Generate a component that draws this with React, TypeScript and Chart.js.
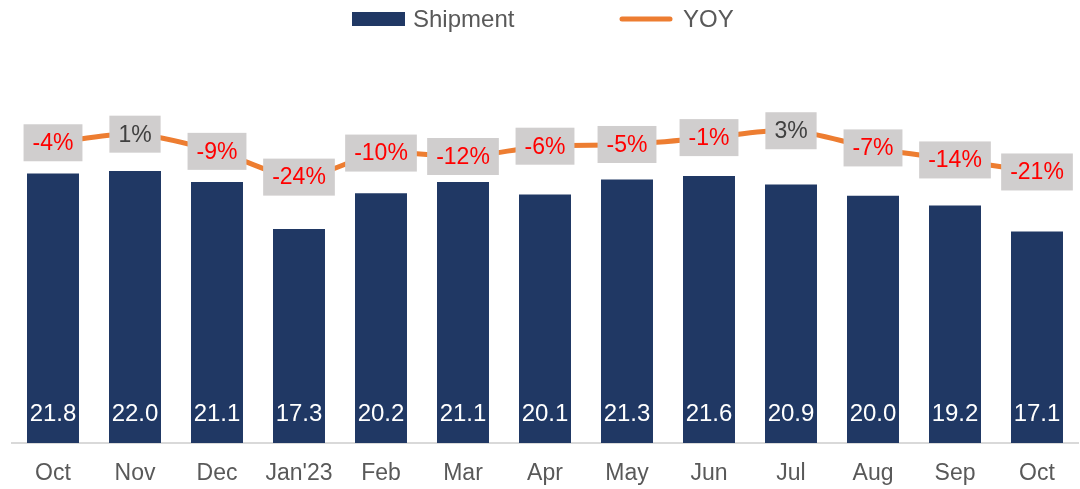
import React, { useEffect, useRef } from "react";
import { Chart, registerables } from "chart.js";

Chart.register(...registerables);

const categories = ["Oct", "Nov", "Dec", "Jan'23", "Feb", "Mar", "Apr", "May", "Jun", "Jul", "Aug", "Sep", "Oct"];
const shipment = [21.8, 22.0, 21.1, 17.3, 20.2, 21.1, 20.1, 21.3, 21.6, 20.9, 20.0, 19.2, 17.1];
const yoy = [-4, 1, -9, -24, -10, -12, -6, -5, -1, 3, -7, -14, -21];

const FONT = "'Liberation Sans', Arial, sans-serif";
const NAVY = "#203864";
const ORANGE = "#ED7D31";

const labelsPlugin = {
  id: "customLabels",
  afterDatasetsDraw(chart: any) {
    const ctx = chart.ctx;
    const barMeta = chart.getDatasetMeta(1);
    const y0 = chart.scales.y.getPixelForValue(0);
    ctx.save();
    ctx.font = `24px ${FONT}`;
    ctx.fillStyle = "#FFFFFF";
    ctx.textAlign = "center";
    ctx.textBaseline = "middle";
    barMeta.data.forEach((el: any, i: number) => {
      ctx.fillText(shipment[i].toFixed(1), el.x, y0 - 29);
    });
    const lineMeta = chart.getDatasetMeta(0);
    ctx.font = `23px ${FONT}`;
    lineMeta.data.forEach((el: any, i: number) => {
      const txt = `${yoy[i]}%`;
      const w = ctx.measureText(txt).width + 18;
      const h = 37;
      ctx.fillStyle = "#D0CECE";
      ctx.fillRect(el.x - w / 2, el.y - h / 2, w, h);
      ctx.fillStyle = yoy[i] < 0 ? "#FF0000" : "#404040";
      ctx.fillText(txt, el.x, el.y + 1);
    });
    ctx.restore();
  },
  afterDraw(chart: any) {
    const ctx = chart.ctx;
    ctx.save();
    ctx.fillStyle = NAVY;
    ctx.fillRect(352, 12, 53, 14);
    ctx.font = `24px ${FONT}`;
    ctx.fillStyle = "#595959";
    ctx.textBaseline = "middle";
    ctx.textAlign = "left";
    ctx.fillText("Shipment", 413, 20);
    ctx.strokeStyle = ORANGE;
    ctx.lineWidth = 5;
    ctx.lineCap = "round";
    ctx.beginPath();
    ctx.moveTo(622, 19);
    ctx.lineTo(670, 19);
    ctx.stroke();
    ctx.fillText("YOY", 683, 20);
    ctx.restore();
  },
};

export default function App() {
  const ref = useRef<HTMLCanvasElement>(null);
  useEffect(() => {
    if (!ref.current) return;
    const chart = new Chart(ref.current, {
      type: "bar",
      data: {
        labels: categories,
        datasets: [
          {
            type: "line",
            label: "YOY",
            data: yoy,
            yAxisID: "y1",
            borderColor: ORANGE,
            backgroundColor: ORANGE,
            borderWidth: 5,
            pointRadius: 0,
            tension: 0.3,
            order: 0,
          } as any,
          {
            type: "bar",
            label: "Shipment",
            data: shipment,
            yAxisID: "y",
            backgroundColor: NAVY,
            barPercentage: 0.634,
            categoryPercentage: 1,
            order: 1,
          },
        ],
      },
      options: {
        responsive: false,
        animation: false,
        devicePixelRatio: 1,
        layout: { padding: { top: 72, left: 12, right: 2, bottom: 1 } },
        plugins: { legend: { display: false }, tooltip: { enabled: false } },
        scales: {
          x: {
            grid: { display: false, drawTicks: false },
            border: { display: true, color: "#D9D9D9", width: 2 },
            ticks: { color: "#595959", font: { family: FONT, size: 23 }, padding: 17 },
            afterFit: (scale: any) => {
              scale.height = 45;
            },
          },
          y: { display: false, min: 0, max: 30 },
          y1: { display: false, min: -178.8, max: 37.2, position: "right" },
        },
      },
      plugins: [labelsPlugin],
    });
    return () => chart.destroy();
  }, []);
  return (
    <div style={{ position: "fixed", left: 0, top: 0, width: 1080, height: 489, background: "#fff" }}>
      <canvas ref={ref} width={1080} height={489} style={{ width: 1080, height: 489 }} />
    </div>
  );
}
